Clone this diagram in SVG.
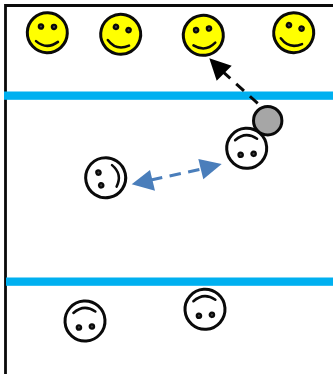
<svg xmlns="http://www.w3.org/2000/svg" width="333" height="374" viewBox="0 0 333 374">
<style>
.head{stroke:#0a0a0a;stroke-width:3}
.happy{fill:#ff0}
.plain{fill:#fff}
.eye{stroke:#0a0a0a;stroke-width:2.200;fill:#444}
.mouth{fill:none;stroke:#0a0a0a;stroke-width:2.500;stroke-linecap:round}
</style>
<defs>
<g id="face-features">
<circle class="eye" cx="-6.500" cy="-6" r="2.200"/>
<circle class="eye" cx="6.500" cy="-6" r="2.200"/>
<path class="mouth" d="M-11 8.800Q0 17.500 11 8.800"/>
</g>
</defs>
<rect width="333" height="374" fill="#fff"/>
<path d="M5.500 374V5.500H333" fill="none" stroke="#0a0a0a" stroke-width="2.800"/>
<rect x="4" y="91.500" width="329" height="8.300" fill="#00b0f0"/>
<rect x="6" y="277.500" width="327" height="8.300" fill="#00b0f0"/>
<g id="happy-1" transform="translate(47.300 32.700) rotate(2)"><circle class="head happy" r="20"/><use href="#face-features"/></g>
<g id="happy-2" transform="translate(120.700 34.300) rotate(15)"><circle class="head happy" r="20"/><use href="#face-features"/></g>
<g id="happy-3" transform="translate(203.300 35.300) rotate(-7)"><circle class="head happy" r="20"/><use href="#face-features"/></g>
<g id="happy-4" transform="translate(293.700 32.700) rotate(15)"><circle class="head happy" r="20"/><use href="#face-features"/></g>
<g id="plain-right" transform="translate(246.700 148.300) rotate(176)"><circle class="head plain" r="20"/><use href="#face-features"/></g>
<g id="plain-left" transform="translate(105.700 177.700) rotate(-102)"><circle class="head plain" r="20"/><use href="#face-features"/></g>
<g id="plain-bottom-1" transform="translate(85 321) rotate(176)"><circle class="head plain" r="20"/><use href="#face-features"/></g>
<g id="plain-bottom-2" transform="translate(205 309.300) rotate(176)"><circle class="head plain" r="20"/><use href="#face-features"/></g>
<g id="grey-ball"><circle cx="267.700" cy="120.700" r="14.200" fill="#a6a6a6" stroke="#0a0a0a" stroke-width="3"/></g>
<g id="connectors">
<path d="M257.700 103.300L222 71" fill="none" stroke="#0a0a0a" stroke-width="3" stroke-dasharray="10.500 8"/>
<polygon points="209.300,58.300 231.700,65.700 216.700,80.700" fill="#000"/>
<path d="M151 180L202 169" fill="none" stroke="#4a7ebb" stroke-width="3" stroke-dasharray="11.500 7.500"/>
<polygon points="131.700,184.300 150,170 155,190.700" fill="#4a7ebb"/>
<polygon points="221.700,164 198.300,159 203.300,179.300" fill="#4a7ebb"/>
</g>
</svg>
